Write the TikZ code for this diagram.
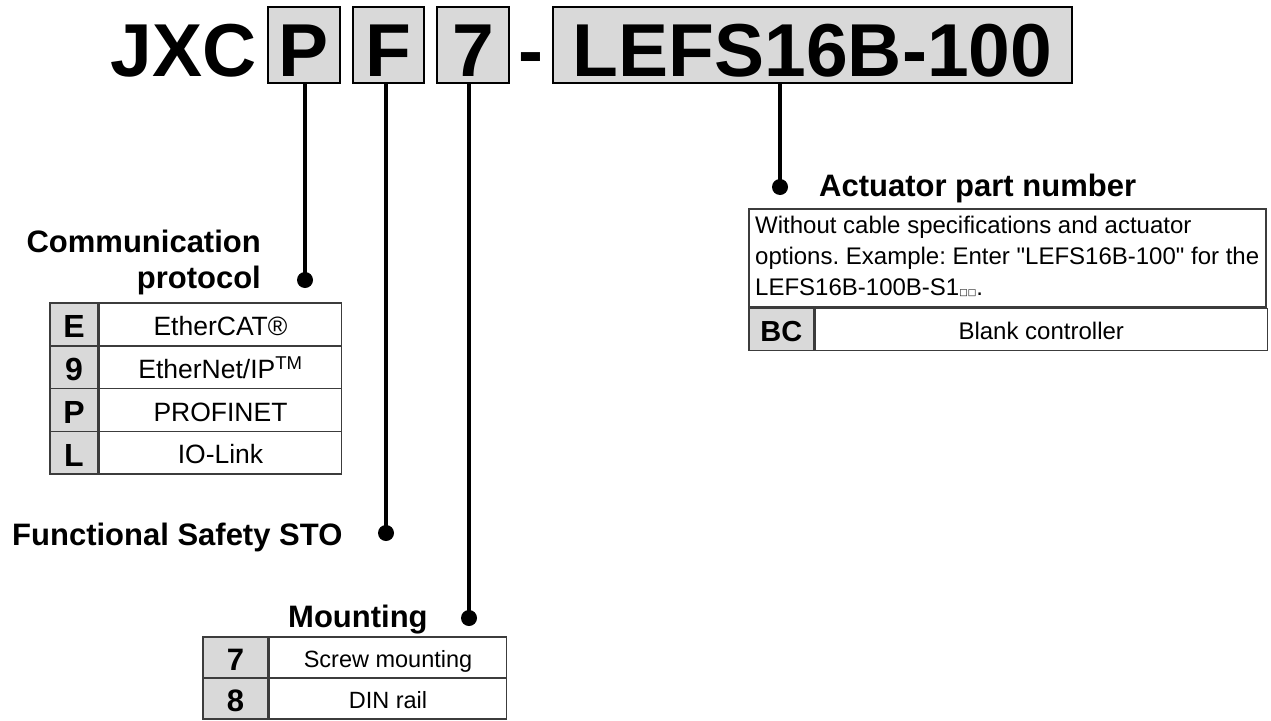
\documentclass[tikz,border=0pt]{standalone}
\usepackage{fontspec}
\setmainfont{Liberation Sans}[Ligatures=TeXOff]
\newfontfamily\symfont{DejaVu Sans}
\usetikzlibrary{positioning}
\definecolor{cellgray}{RGB}{217,217,217}
\definecolor{rulegray}{RGB}{60,60,60}
\newcommand{\setfs}[1]{\fontsize{#1}{#1}\selectfont}

\tikzset{
  codebox/.style={draw=black,line width=2,fill=cellgray,
    minimum height=76,inner sep=0,text height=62,text depth=0,
    font=\setfs{75}\bfseries},
  hdr/.style={inner sep=0,font=\setfs{75}\bfseries},
  title/.style={inner sep=0,font=\setfs{31}\bfseries},
  keycell/.style={draw=rulegray,line width=1.5,fill=cellgray,inner sep=0,
    font=\setfs{#1}\bfseries,text height={0.85*#1},text depth=0},
  valcell/.style={draw=rulegray,line width=1.5,inner sep=0,
    font=\setfs{#1},text height={0.85*#1},text depth=0},
  dot/.style={circle,fill=black,inner sep=0,minimum size=16},
  lead/.style={line width=3.5}
}

\begin{document}
\frenchspacing
\begin{tikzpicture}[x=1pt,y=-1pt]
  \path[use as bounding box,fill=white] (0,0) rectangle (1271,720);

  % part number
  \node[hdr,anchor=base east] (jxc) at (257,76) {JXC};
  \node[codebox,minimum width=72] (boxP) at (304,45) {P};
  \node[codebox,minimum width=71,right=11pt of boxP] (boxF) {F};
  \node[codebox,minimum width=72,right=11pt of boxF] (box7) {7};
  \node[hdr,anchor=base] (dash) at (531,76) {-};
  \node[codebox,minimum width=519] (boxA) at (812.5,45) {LEFS16B-100};

  % leads
  \node[dot] (dotP) at (305,280) {};
  \node[dot] (dotF) at (386,533) {};
  \node[dot] (dot7) at (469,618) {};
  \node[dot] (dotA) at (780,187) {};
  \draw[lead] (dotP.center) -- (dotP.center |- boxP.south);
  \draw[lead] (dotF.center) -- (dotF.center |- boxF.south);
  \draw[lead] (dot7.center) -- (dot7.center |- box7.south);
  \draw[lead] (dotA.center) -- (dotA.center |- boxA.south);

  % communication protocol
  \node[title,anchor=base east] (comtitle) at (261,252) {Communication};
  \node[title,anchor=base east] (comtitle2) at (261,288) {protocol};
  \foreach \k/\v [count=\i] in {E/EtherCAT®,9/{EtherNet/IP\textsuperscript{TM}},
      P/PROFINET,L/IO-Link}{
    \node[keycell=32,minimum width=48,minimum height=42.75]
      (comk\i) at (74,303+42.75*\i-21.375) {\k};
    \node[valcell=26.5,minimum width=242,minimum height=42.75,
      right=0pt of comk\i] (comv\i) {\v};
  }

  % functional safety
  \node[title,anchor=base west] (stotitle) at (12,545) {Functional Safety STO};

  % mounting
  \node[title,anchor=base west] (mnttitle) at (288,627) {Mounting};
  \foreach \k/\v [count=\i] in {7/Screw mounting,8/DIN rail}{
    \node[keycell=31,minimum width=65,minimum height=41]
      (mntk\i) at (235.5,637+41*\i-20.5) {\k};
    \node[valcell=23.5,minimum width=237,minimum height=41,
      right=0pt of mntk\i] (mntv\i) {\v};
  }

  % actuator part number
  \node[title,anchor=base west] (acttitle) at (819,196) {Actuator part number};
  \node[draw=rulegray,line width=1.5,anchor=north west,inner sep=0,
    minimum width=517,minimum height=98] (actbox) at (748,208) {};
  \node[anchor=north west,inner sep=0,align=left,
    font=\fontsize{24}{31}\selectfont] (actdesc) at (755,215.5)
    {Without cable specifications and actuator\\
     options. Example: Enter "LEFS16B-100" for the\\
     LEFS16B-100B-S1{\symfont\setfs{9}□□}.};
  \node[keycell=29,minimum width=65,minimum height=42,
    anchor=north west] (bckey) at (actbox.south west) {BC};
  \node[valcell=24,minimum width=452,minimum height=42,
    right=0pt of bckey] (bcval) {Blank controller};
\end{tikzpicture}
\end{document}
